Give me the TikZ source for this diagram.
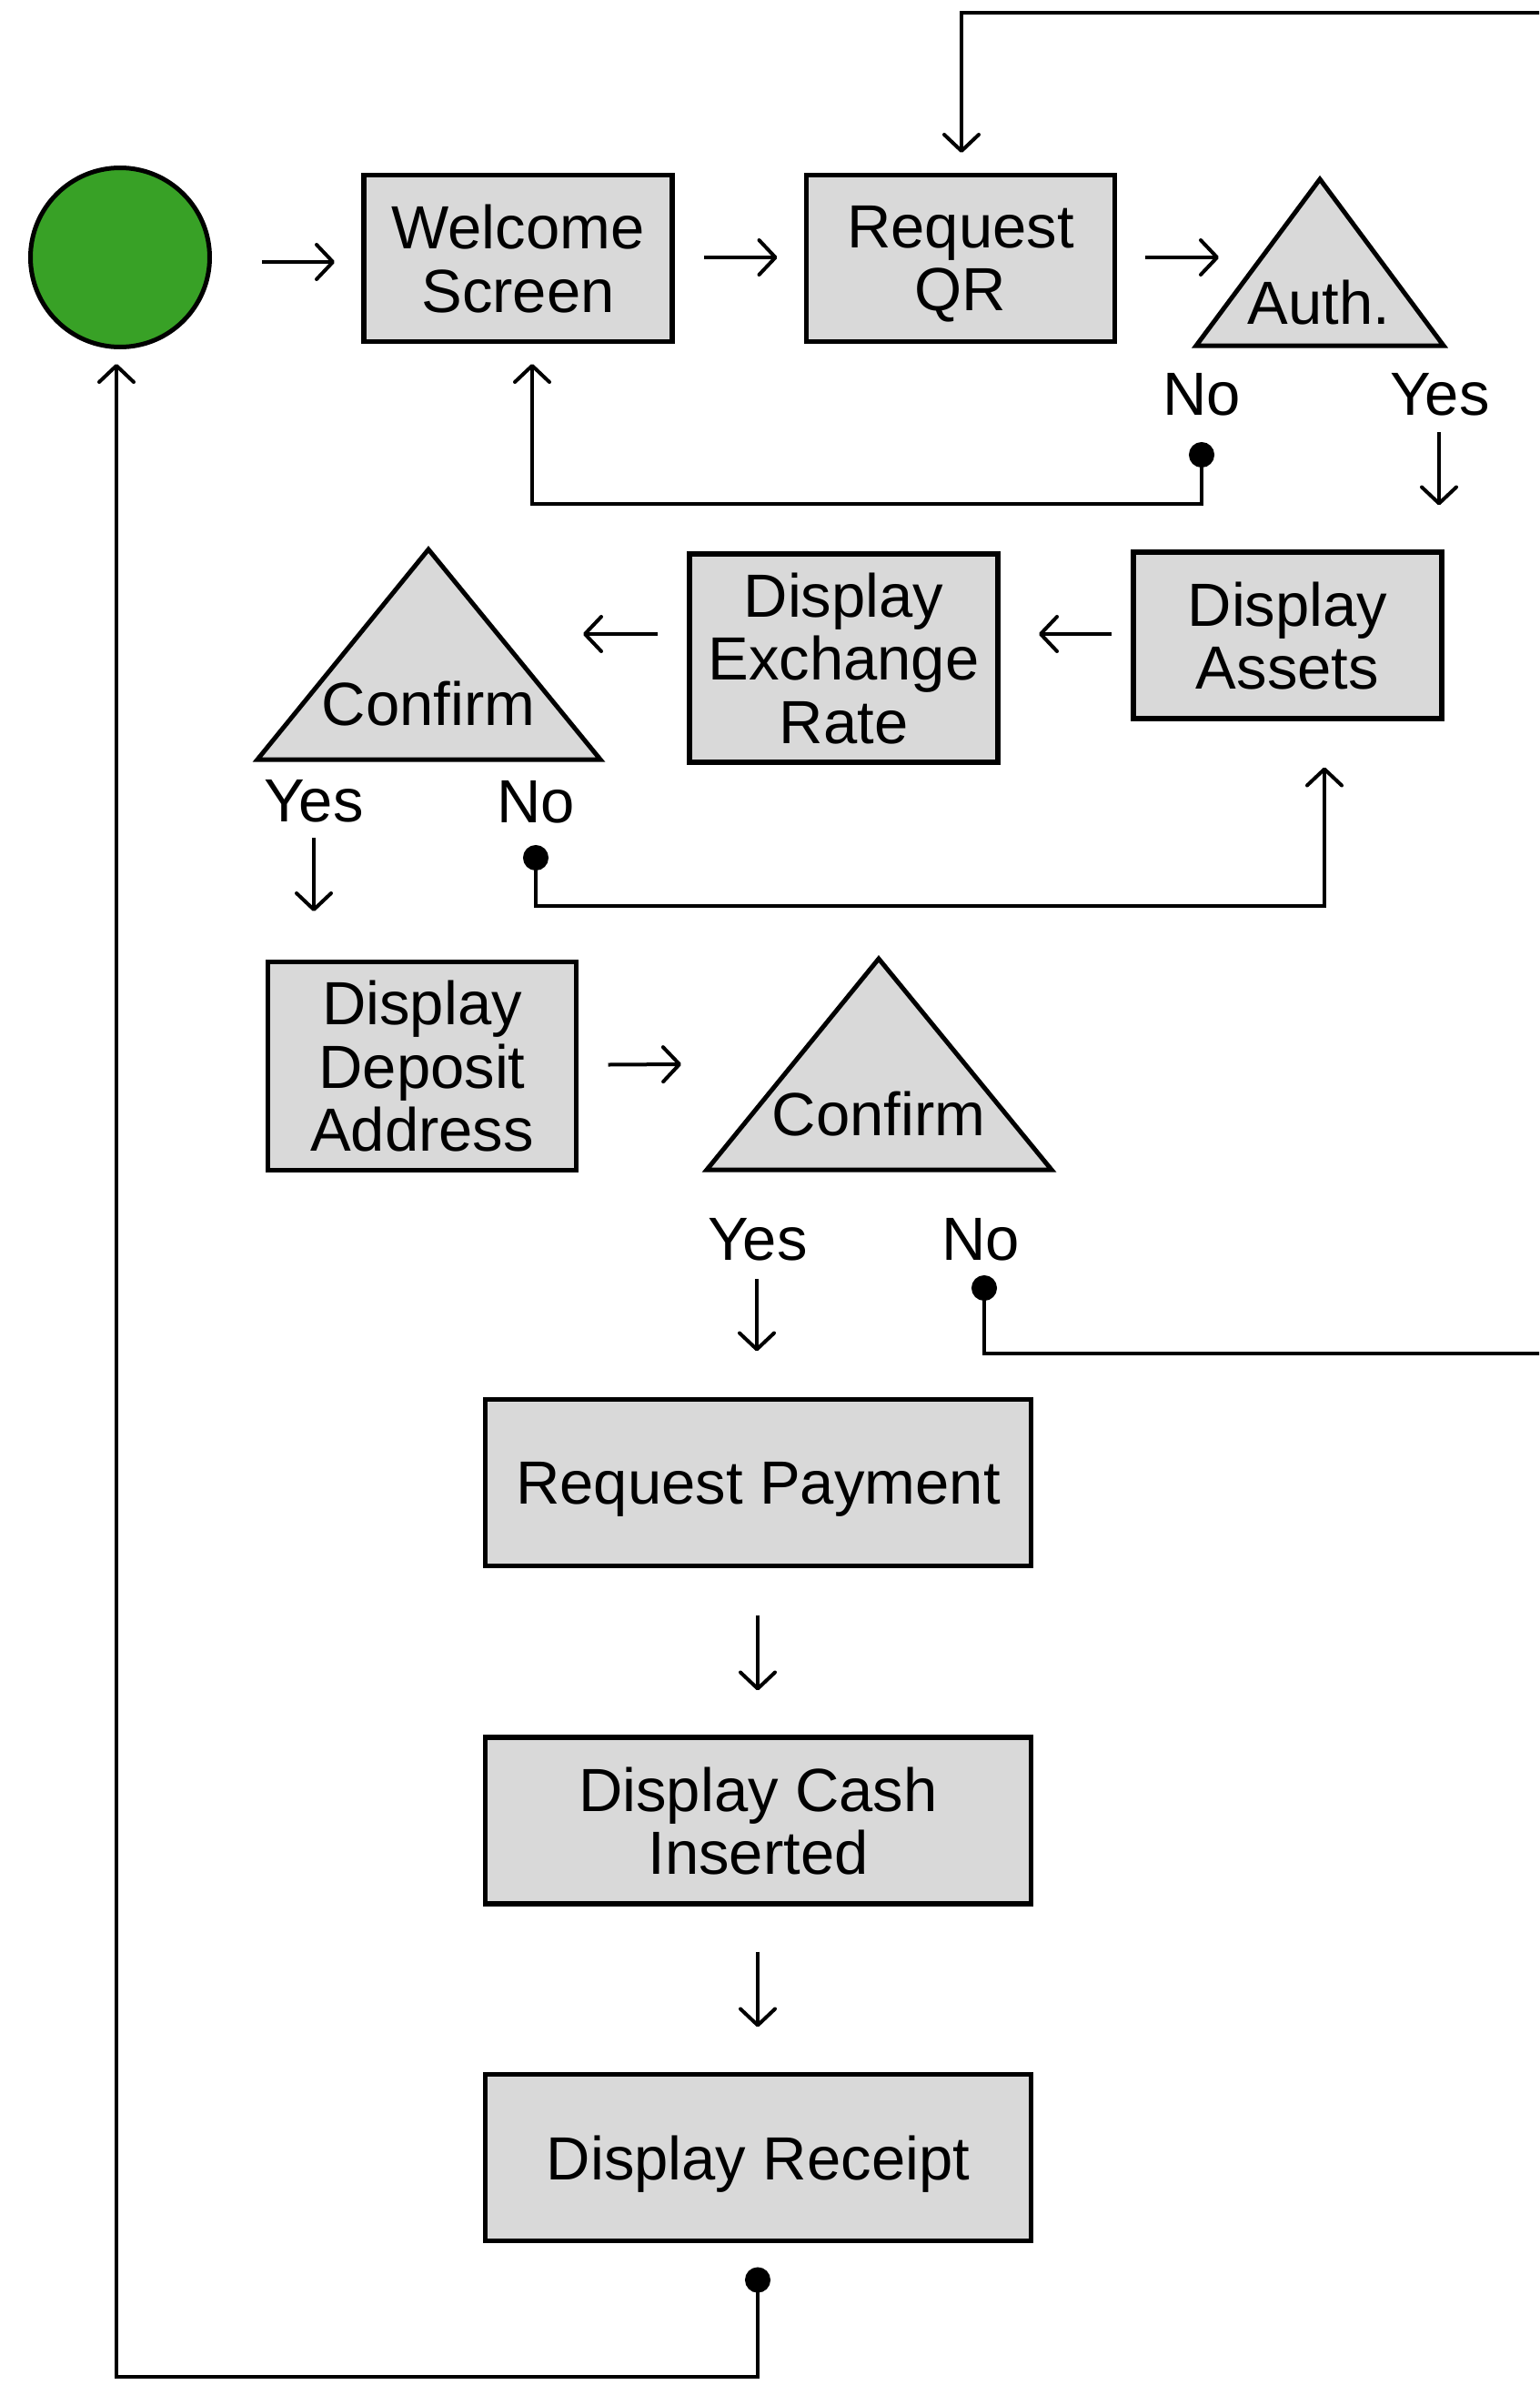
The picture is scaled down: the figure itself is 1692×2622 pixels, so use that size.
\documentclass[tikz,border=0pt]{standalone}
\usepackage{fontspec}
\setmainfont{Liberation Sans}
\usetikzlibrary{arrows.meta,calc}
\definecolor{boxgray}{HTML}{D9D9D9}
\definecolor{startgreen}{HTML}{38A126}
\begin{document}
\begin{tikzpicture}[x=1pt,y=-1pt,
  lbl/.style={font=\fontsize{67}{69.5}\selectfont},
  box/.style={lbl, draw=black, fill=boxgray, line width=5.5pt, rectangle,
    outer sep=0pt, inner sep=0pt, align=center, text depth=0pt,
    minimum width=339pt, minimum height=183pt},
  tallbox/.style={box, minimum height=229pt},
  widebox/.style={box, minimum width=600pt},
  startnode/.style={circle, draw=black, fill=startgreen, line width=5pt,
    outer sep=0pt, inner sep=0pt, minimum size=197pt},
  tri/.style={draw=black, fill=boxgray, line width=5pt, line join=miter},
  txt/.style={lbl, inner sep=0pt, outer sep=0pt, anchor=base},
  conn/.style={draw=black, line width=4pt},
  arr/.style={conn, -{Straight Barb[length=18pt,width=38pt,round]}},
  dotarr/.style={conn, {Circle[length=28pt,width=28pt]}-{Straight Barb[length=18pt,width=38pt,round]}},
]
\useasboundingbox (0,0) rectangle (1692,2622);
\clip (0,0) rectangle (1692,2622);

% ---- nodes ----
\node[startnode] (start) at (132,283) {};
\node[box] (welcome) at (569.5,284) {Welcome\\Screen};
\node[box] (reqqr) at (1056,284) {Request\\QR};

\path[tri] (1451,197) coordinate (authA) -- (1587,380) coordinate (authR)
  -- (1315,380) coordinate (authL) -- cycle;
\node[txt] (auth) at (1450,356) {Auth.};
\node[txt] (authno) at (1321,456) {No};
\node[txt] (authyes) at (1583,456) {Yes};

\node[box] (assets) at (1415.5,698.5) {Display\\Assets};
\node[tallbox] (exch) at (927.5,723.5) {Display\\Exchange\\Rate};

\path[tri] (471,604) coordinate (c1A) -- (660,835) coordinate (c1R)
  -- (283,835) coordinate (c1L) -- cycle;
\node[txt] (conf1) at (471,797) {Confirm};
\node[txt] (c1yes) at (345,903) {Yes};
\node[txt] (c1no) at (589,904) {No};

\node[tallbox] (deposit) at (464,1172) {Display\\Deposit\\Address};

\path[tri] (966,1054) coordinate (c2A) -- (1156,1286) coordinate (c2R)
  -- (777,1286) coordinate (c2L) -- cycle;
\node[txt] (conf2) at (966,1248) {Confirm};
\node[txt] (c2yes) at (833,1385) {Yes};
\node[txt] (c2no) at (1078,1385) {No};

\node[widebox] (reqpay) at (833.5,1630) {Request Payment};
\node[widebox] (cash) at (833.5,2001.5) {Display Cash\\Inserted};
\node[widebox] (receipt) at (833.5,2372) {Display Receipt};

\coordinate (offright) at (1730,1488);

% ---- connectors ----
\draw[arr] ($(start.east)+(57.5,5)$) -- ($(welcome.west)+(-32,4)$);
\draw[arr] ($(welcome.east)+(35,-1)$) -- ($(reqqr.west)+(-32,-1)$);
\draw[arr] ($(reqqr.east)+(33,-1)$) -- ($(authL)+(25,-97)$);
\draw[dotarr] ($(authno.base)+(0,30)$) |- ($(welcome.south)+(15.5,178.5)$)
  -- ($(welcome.south)+(15.5,24.5)$);
\draw[arr] ($(authyes.base)+(-1,19)$) -- ($(assets.north)+(166.5,-51.5)$);

\draw[arr] ($(assets.west)+(-24,-1.5)$) -- ($(exch.east)+(45,-26.5)$);
\draw[arr] ($(exch.west)+(-35,-26.5)$) -- ($(c1R)+(-19,-138)$);
\draw[arr] ($(c1yes.base)+(0,18)$) -- ($(deposit.north)+(-119,-55.5)$);
\draw[dotarr] ($(c1no.base)+(0,25)$) |- ($(assets.south)+(40.5,205.5)$)
  -- ($(assets.south)+(40.5,53.5)$);

\draw[arr] ($(deposit.east)+(35,-1.5)$) -- ($(c2L)+(-28,-116)$);
\draw[arr] ($(c2yes.base)+(-1,21)$) -- ($(reqpay.north)+(-1.5,-53)$);
\draw[dotarr] ($(c2no.base)+(4,17)$) |- (offright)
  |- ($(reqqr.north)+(1,-178.5)$) -- ($(reqqr.north)+(1,-24.5)$);

\draw[arr] ($(reqpay.south)+(-0.5,54)$) -- ($(cash.north)+(-0.5,-51.5)$);
\draw[arr] ($(cash.south)+(-0.5,52.5)$) -- ($(receipt.north)+(-0.5,-52)$);
\draw[dotarr] ($(receipt.south)+(-0.5,29)$) |- ($(start.south)+(-4,2231)$)
  -- ($(start.south)+(-4,18.5)$);
\end{tikzpicture}
\end{document}
